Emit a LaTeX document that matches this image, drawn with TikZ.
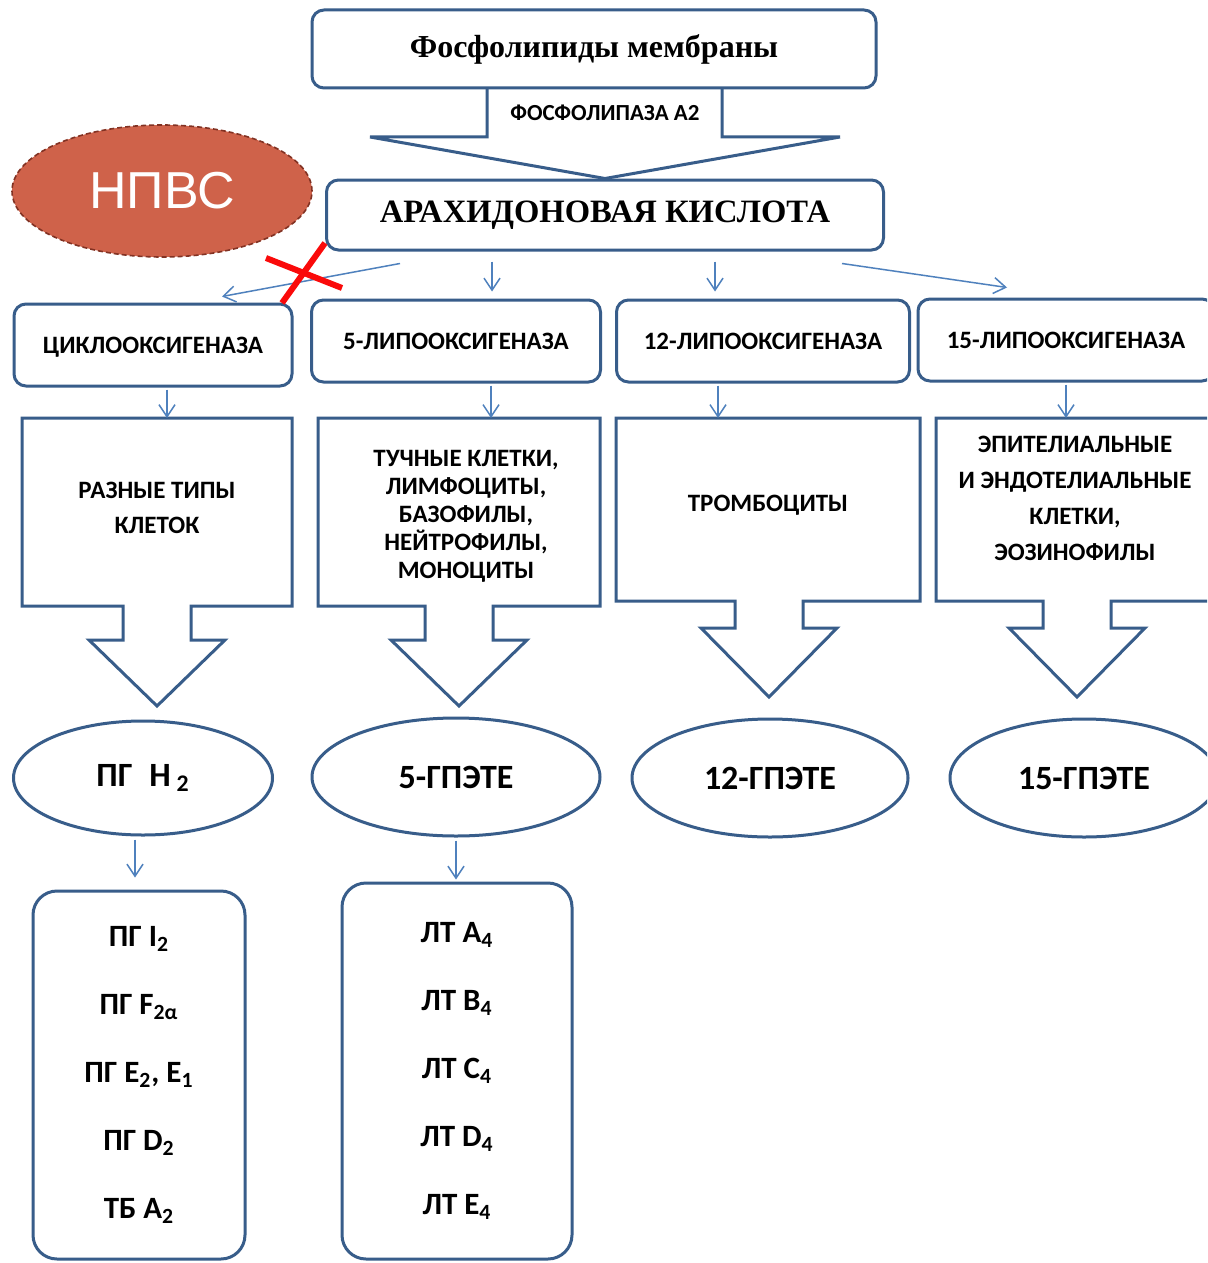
\documentclass[tikz,border=0pt]{standalone}
\usepackage{fontspec}
\setmainfont{Carlito}
\newfontfamily\timesfont{Liberation Serif}
\newfontfamily\arialfont{Liberation Sans}
\usetikzlibrary{arrows.meta,calc,positioning,shapes.geometric}
\definecolor{pwline}{RGB}{56,93,138}
\definecolor{pwthin}{RGB}{79,129,189}
\definecolor{pwnsaid}{RGB}{207,98,74}
\definecolor{pwnsaidline}{RGB}{130,50,35}
\definecolor{pwred}{RGB}{250,10,10}

\begin{document}
\begin{tikzpicture}[x=0.5pt,y=-0.5pt,
    box/.style={draw=pwline,line width=1.5pt,rounded corners=6pt,fill=white,inner sep=0pt,align=center},
    enzbox/.style={box,minimum height=41pt,text depth=0pt,font=\bfseries\fontsize{12.5}{15}\selectfont},
    listbox/.style={box,rounded corners=12pt,font=\bfseries\fontsize{15.5}{34}\selectfont},
    oval/.style={ellipse,draw=pwline,line width=1.5pt,inner sep=0pt,fill=white,font=\bfseries\fontsize{17}{20}\selectfont},
    blockarrow/.style={draw=pwline,line width=1.5pt,line join=miter},
    conn/.style={draw=pwthin,line width=0.75pt,-{Straight Barb[length=6pt,width=8pt]}},
    celltext/.style={align=center,font=\bfseries\fontsize{12.5}{15}\selectfont}]
  \fill[white] (0,0) rectangle (1207,1263);
  \useasboundingbox (0,0) rectangle (1207,1263);
  \clip (0,0) rectangle (1207,1263);

  % top of the cascade
  \node[box,minimum width=282pt,minimum height=39pt,font=\timesfont\bfseries\fontsize{16}{19}\selectfont] (membr) at (594,49) {Фосфолипиды мембраны};
  \node[box,minimum width=278.5pt,minimum height=35pt,font=\timesfont\bfseries\fontsize{16.3}{19}\selectfont] (arach) at (605,215) {АРАХИДОНОВАЯ КИСЛОТА};
  \draw[blockarrow] (487,88) -- (487,137) -- (370,137) -- (arach.north) -- (840,137) -- (722,137) -- (722,88);
  \node[font=\bfseries\fontsize{11.5}{14}\selectfont] (pla2) at (605,113) {ФОСФОЛИПАЗА А2};

  \node[ellipse,draw=pwnsaidline,dashed,dash pattern=on 2.5pt off 1.5pt,line width=0.8pt,fill=pwnsaid,
        minimum width=150pt,minimum height=66pt,text=white,font=\arialfont\fontsize{26}{30}\selectfont] (nsaid) at (162,191) {НПВС};

  % enzymes
  \node[enzbox,minimum width=139pt] (cox) at (153,345) {ЦИКЛООКСИГЕНАЗА};
  \node[enzbox,minimum width=144.5pt] (lox5) at (456,341) {5-ЛИПООКСИГЕНАЗА};
  \node[enzbox,minimum width=146.5pt] (lox12) at (763,341) {12-ЛИПООКСИГЕНАЗА};
  \node[enzbox,minimum width=148pt] (lox15) at (1066,340) {15-ЛИПООКСИГЕНАЗА};

  \draw[conn] ($(arach.south)+(-205,12)$) -- ($(cox.north)+(69,-6)$);
  \draw[conn] ($(arach.south)+(-113,10)$) -- ($(lox5.north)+(36,-7)$);
  \draw[conn] ($(arach.south)+(110,10)$) -- ($(lox12.north)+(-48,-7)$);
  \draw[conn] ($(arach.south)+(237,12)$) -- ($(lox15.north)+(-59,-10)$);

  % blocking by NSAID
  \coordinate (stop) at (304,273);
  \draw[pwred,line width=3pt] ($(stop)+(21,-30)$) -- ($(stop)+(-22,30)$);
  \draw[pwred,line width=3pt] ($(stop)+(-38,-15)$) -- ($(stop)+(38,15)$);

  % cell types
  \foreach \l/\r/\c/\b/\s/\t/\n in {22/292/157/606/640/706/blk1,318/600/459/606/640/706/blk2,
                                     616/920/769/601/628/697/blk3,936/1230/1077/601/628/697/blk4}{
    \draw[blockarrow] (\l,418) -- (\r,418) -- (\r,\b) -- (\c+34,\b) -- (\c+34,\s) -- (\c+68,\s) -- (\c,\t)
      -- (\c-68,\s) -- (\c-34,\s) -- (\c-34,\b) -- (\l,\b) -- cycle;
    \coordinate (\n) at (\c,418);
  }
  \node[celltext,font=\bfseries\fontsize{12.5}{17.5}\selectfont] (cells1) at (157,508) {РАЗНЫЕ ТИПЫ\\КЛЕТОК};
  \node[celltext,font=\bfseries\fontsize{12.5}{14}\selectfont] (cells2) at (466,516) {ТУЧНЫЕ КЛЕТКИ,\\ЛИМФОЦИТЫ,\\БАЗОФИЛЫ,\\НЕЙТРОФИЛЫ,\\МОНОЦИТЫ};
  \node[celltext] (cells3) at (768,505) {ТРОМБОЦИТЫ};
  \node[celltext,font=\bfseries\fontsize{12.5}{18}\selectfont] (cells4) at (1075,498) {ЭПИТЕЛИАЛЬНЫЕ\\И ЭНДОТЕЛИАЛЬНЫЕ\\КЛЕТКИ,\\ЭОЗИНОФИЛЫ};

  \draw[conn] ([xshift=7pt,yshift=-1pt]cox.south) -- ([xshift=7pt]cox.south |- blk1);
  \draw[conn] ([xshift=17.5pt,yshift=-1pt]lox5.south) -- ([xshift=17.5pt]lox5.south |- blk2);
  \draw[conn] ([xshift=-22.5pt,yshift=-1pt]lox12.south) -- ([xshift=-22.5pt]lox12.south |- blk3);
  \draw[conn] ([xshift=0pt,yshift=-1pt]lox15.south) -- ([xshift=0pt]lox15.south |- blk4);

  % products
  \node[oval,minimum width=129.5pt,minimum height=57pt] (pgh) at (143,778) {ПГ\enspace H\,\textsubscript{2}};
  \node[oval,minimum width=144pt,minimum height=59pt] (hpete5) at (456,777) {5-ГПЭТЕ};
  \node[oval,minimum width=138pt,minimum height=59pt] (hpete12) at (770,778) {12-ГПЭТЕ};
  \node[oval,minimum width=134pt,minimum height=59pt] (hpete15) at (1084,778) {15-ГПЭТЕ};

  \node[listbox,minimum width=106pt,minimum height=184pt] (prost) at (139,1075)
    {ПГ I\textsubscript{2}\\ПГ F\textsubscript{2α}\\ПГ E\textsubscript{2}, E\textsubscript{1}\\ПГ D\textsubscript{2}\\ТБ A\textsubscript{2}};
  \node[listbox,minimum width=115pt,minimum height=188pt] (leuko) at (457,1071)
    {ЛТ A\textsubscript{4}\\ЛТ B\textsubscript{4}\\ЛТ C\textsubscript{4}\\ЛТ D\textsubscript{4}\\ЛТ E\textsubscript{4}};

  \draw[conn,shorten >=6pt] ([xshift=-4pt,yshift=-1.5pt]pgh.south) -- ([xshift=-4pt]pgh.south |- prost.north);
  \draw[conn,shorten >=1pt] ([yshift=-1.5pt]hpete5.south) -- (hpete5.south |- leuko.north);
\end{tikzpicture}
\end{document}
